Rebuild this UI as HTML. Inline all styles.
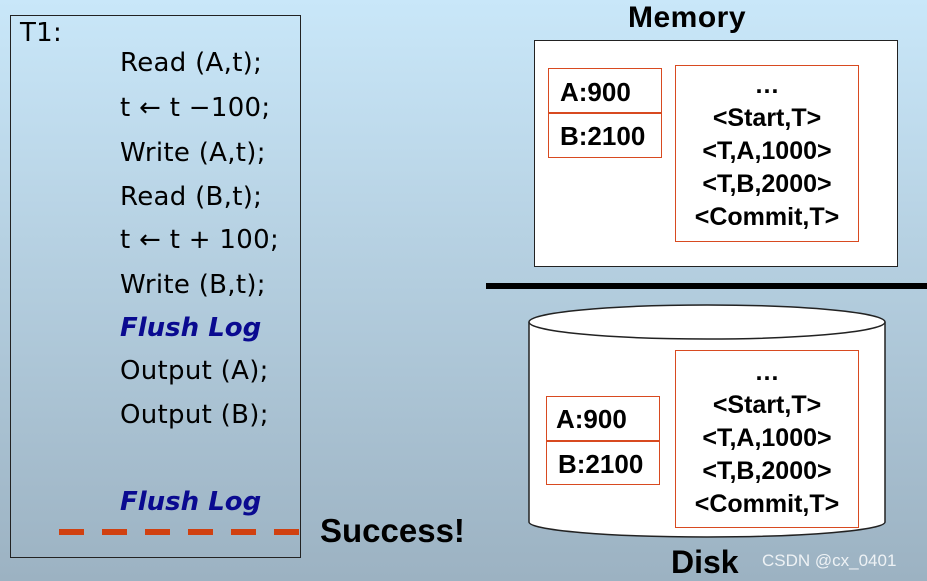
<!DOCTYPE html>
<html><head><meta charset="utf-8"><style>
body{margin:0;width:927px;height:581px;overflow:hidden;background:linear-gradient(#c9e7f9,#9cb2c2);font-family:"Liberation Sans",sans-serif;position:relative}
.a{position:absolute;white-space:nowrap}
.c{font-family:"DejaVu Sans",sans-serif;font-size:26px;letter-spacing:0.3px;color:#000;left:120px;line-height:30px}
.f{font-weight:bold;font-style:italic;color:#0a0a90;font-size:26px;letter-spacing:0}
.b{font-weight:bold}
.box{position:absolute;border:1.5px solid #d84a20;box-sizing:border-box;background:#fff}
.log{font-weight:bold;font-size:25px;text-align:center;line-height:33px}
</style></head><body>
<div class="a" style="left:10px;top:15px;width:291px;height:543px;border:1.5px solid #222;box-sizing:border-box"></div>
<div class="a c" style="left:20px;top:18px;">T1:</div>
<div class="a c" style="top:48px">Read (A,t);</div>
<div class="a c" style="top:93px">t ← t −100;</div>
<div class="a c" style="top:138px">Write (A,t);</div>
<div class="a c" style="top:182px">Read (B,t);</div>
<div class="a c" style="top:225px">t ← t + 100;</div>
<div class="a c" style="top:270px">Write (B,t);</div>
<div class="a c f" style="top:313px">Flush Log</div>
<div class="a c" style="top:356px">Output (A);</div>
<div class="a c" style="top:400px">Output (B);</div>
<div class="a c f" style="top:487px">Flush Log</div>
<div class="a" style="left:59px;top:529px;width:242px;height:6px;background:repeating-linear-gradient(90deg,#d04010 0 25px,transparent 25px 43px)"></div>
<div class="a b" style="left:320px;top:512px;font-size:33px">Success!</div>

<div class="a b" style="left:628px;top:1px;font-size:30px;letter-spacing:0.5px">Memory</div>
<div class="a" style="left:534px;top:40px;width:364px;height:227px;border:1.5px solid #222;box-sizing:border-box;background:#fff"></div>
<div class="box" style="left:548px;top:68px;width:114px;height:90px"></div>
<div class="a" style="left:548px;top:112px;width:114px;height:1.5px;background:#d84a20"></div>
<div class="a b" style="left:560px;top:77px;font-size:26px">A:900</div>
<div class="a b" style="left:560px;top:121px;font-size:26px">B:2100</div>
<div class="box log" style="left:675px;top:65px;width:184px;height:177px;padding-top:3px">…<br>&lt;Start,T&gt;<br>&lt;T,A,1000&gt;<br>&lt;T,B,2000&gt;<br>&lt;Commit,T&gt;</div>
<div class="a" style="left:486px;top:283px;width:441px;height:6px;background:#000"></div>

<svg class="a" style="left:0;top:0" width="927" height="581">
<path d="M529,322 L529,522 A178,15 0 0 0 885,522 L885,322" fill="#fff" stroke="#222" stroke-width="1.5"/>
<ellipse cx="707" cy="322" rx="178" ry="17" fill="#fff" stroke="#222" stroke-width="1.5"/>
</svg>
<div class="box" style="left:546px;top:396px;width:114px;height:89px"></div>
<div class="a" style="left:546px;top:440px;width:114px;height:1.5px;background:#d84a20"></div>
<div class="a b" style="left:556px;top:404px;font-size:26px">A:900</div>
<div class="a b" style="left:558px;top:449px;font-size:26px">B:2100</div>
<div class="box log" style="left:675px;top:350px;width:184px;height:178px;padding-top:5px">…<br>&lt;Start,T&gt;<br>&lt;T,A,1000&gt;<br>&lt;T,B,2000&gt;<br>&lt;Commit,T&gt;</div>
<div class="a b" style="left:671px;top:544px;font-size:32px">Disk</div>
<div class="a" style="left:762px;top:551px;font-size:17px;color:#eef2f5">CSDN @cx_0401</div>
</body></html>
